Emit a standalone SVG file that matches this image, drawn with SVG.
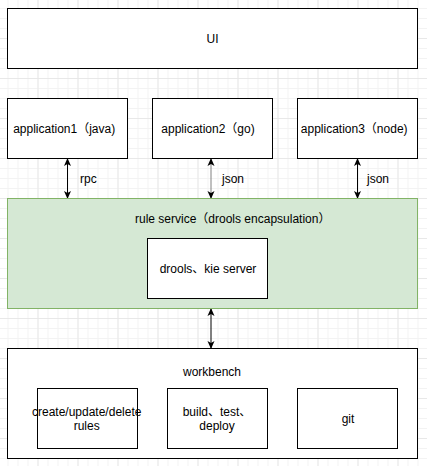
<svg xmlns="http://www.w3.org/2000/svg" width="427" height="466" viewBox="0 0 427 466">
<style>
.box{fill:#ffffff;stroke:#000000;stroke-width:1}
.green{fill:#d5e8d4;stroke:#82b366;stroke-width:1}
.t{font-family:"Liberation Sans","Noto Sans CJK SC",Arial,sans-serif;font-size:12px;fill:#000000}
.m{text-anchor:middle}
.conn{stroke:#000000;stroke-width:1;fill:none;marker-start:url(#ah);marker-end:url(#ah)}
</style>
<defs>
<pattern id="minor" x="-2.5" y="-2" width="10" height="10" patternUnits="userSpaceOnUse">
<path d="M0.5 0V10M0 0.5H10" stroke="#f3f3f3" stroke-width="1" fill="none"/>
</pattern>
<pattern id="major" x="-2.5" y="-2" width="40" height="40" patternUnits="userSpaceOnUse">
<path d="M0.5 0V40M0 0.5H40" stroke="#e8e8e8" stroke-width="1" fill="none"/>
</pattern>
<marker id="ah" viewBox="0 0 8 8" refX="7.5" refY="4" markerWidth="8" markerHeight="8" markerUnits="userSpaceOnUse" orient="auto-start-reverse">
<path d="M0 0.5L8 4L0 7.5L2 4Z" fill="#000000"/>
</marker>
</defs>
<rect width="427" height="466" fill="#ffffff"/>
<rect width="427" height="466" fill="url(#minor)"/>
<rect width="427" height="466" fill="url(#major)"/>

<g id="connectors">
<path class="conn" d="M67.5 158.5V198.5"/>
<path class="conn" d="M211 158.5V198.5" style="stroke:#808080"/>
<path class="conn" d="M357.5 158.5V198.5"/>
<path class="conn" d="M211 308.5V348.5"/>
<text class="t" x="80" y="183">rpc</text>
<text class="t" x="222" y="183">json</text>
<text class="t" x="367" y="183">json</text>
</g>

<g id="ui">
<rect class="box" x="7.5" y="8.5" width="410" height="60"/>
<text class="t m" x="212.5" y="43">UI</text>
</g>

<g id="app1">
<rect class="box" x="7.5" y="98.5" width="120" height="60"/>
<text class="t m" x="64.2" y="132.5">application1（java)</text>
</g>
<g id="app2">
<rect class="box" x="152.5" y="98.5" width="120" height="60"/>
<text class="t m" x="208" y="132.5">application2（go)</text>
</g>
<g id="app3">
<rect class="box" x="297.5" y="98.5" width="120" height="60"/>
<text class="t m" x="354.2" y="132.5">application3（node)</text>
</g>

<g id="rule-service">
<rect class="green" x="7.5" y="198.5" width="410" height="110"/>
<text class="t" x="135" y="223">rule service（drools encapsulation）</text>
</g>
<g id="drools">
<rect class="box" x="147.5" y="238.5" width="120" height="60"/>
<text class="t m" x="208" y="273">drools、kie server</text>
</g>

<g id="workbench">
<rect class="box" x="7.5" y="348.5" width="410" height="110"/>
<text class="t m" x="212" y="376">workbench</text>
</g>
<g id="crud">
<rect class="box" x="37.5" y="388.5" width="100" height="60"/>
<text class="t m" x="86.7" y="416">create/update/delete</text>
<text class="t m" x="86.7" y="430">rules</text>
</g>
<g id="build">
<rect class="box" x="167.5" y="388.5" width="100" height="60"/>
<text class="t m" x="217" y="416">build、test、</text>
<text class="t m" x="217" y="430">deploy</text>
</g>
<g id="git">
<rect class="box" x="297.5" y="388.5" width="100" height="60"/>
<text class="t m" x="348" y="423">git</text>
</g>
</svg>
